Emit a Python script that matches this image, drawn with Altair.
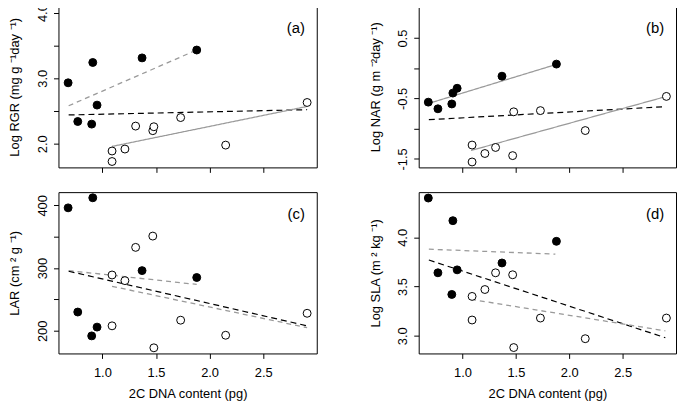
import altair as alt
import pandas as pd

FONT = "Liberation Sans"

# ---- data ----
filled_x = [0.68, 0.77, 0.91, 0.90, 0.95, 1.37, 1.88]
open_x = [1.09, 1.09, 1.21, 1.31, 1.47, 1.48, 1.73, 2.15, 2.91]

rgr_filled = [2.93, 2.34, 3.24, 2.30, 2.59, 3.31, 3.43]
rgr_open = [1.89, 1.73, 1.92, 2.27, 2.20, 2.26, 2.40, 1.98, 2.63]

nar_filled = [-0.56, -0.67, -0.41, -0.59, -0.33, -0.13, 0.07]
nar_open = [-1.27, -1.55, -1.41, -1.31, -1.445, -0.72, -0.70, -1.03, -0.465]

lar_filled = [396, 230, 412, 192, 206, 296, 285]
lar_open = [289, 208, 280, 333, 351, 173, 217, 193, 228]

sla_filled = [4.40, 3.64, 4.17, 3.42, 3.67, 3.74, 3.96]
sla_open = [3.40, 3.16, 3.47, 3.64, 3.62, 2.88, 3.18, 2.97, 3.18]

# fitted lines: (kind, x start, x end, y start, y end)
rgr_lines = [("gray_dash", 0.685, 1.88, 2.58, 3.43),
             ("black_dash", 0.685, 2.91, 2.44, 2.52),
             ("gray_solid", 1.09, 2.91, 1.96, 2.57)]
nar_lines = [("gray_solid", 0.685, 1.87, -0.58, 0.06),
             ("black_dash", 0.685, 2.90, -0.85, -0.635),
             ("gray_solid", 1.08, 2.90, -1.36, -0.47)]
lar_lines = [("gray_dash", 0.685, 1.88, 296, 274),
             ("black_dash", 0.685, 2.91, 295, 208),
             ("gray_dash", 1.09, 2.91, 271, 205)]
sla_lines = [("gray_dash", 0.685, 1.87, 3.88, 3.83),
             ("black_dash", 0.685, 2.90, 3.77, 2.98),
             ("gray_dash", 1.08, 2.90, 3.37, 3.05)]

x_ticks = [1.0, 1.5, 2.0, 2.5]
x_domain = [0.59, 3.0]
panel_letters = ["(a)", "(b)", "(c)", "(d)"]
y_titles = ["Log RGR  (mg g \u207b\u00b9day \u207b\u00b9)",
            "Log NAR  (g m \u207b\u00b2day \u207b\u00b9)",
            "LAR  (cm \u00b2 g \u207b\u00b9)",
            "Log SLA  (m \u00b2 kg \u207b\u00b9)"]
x_title = "2C DNA content  (pg)"

W, H = 261, 163


def panel(letter, ytitle, yf, yo, lines, ydom, yticks, lexpr, bottom, w):
    pts = pd.DataFrame({
        "x": filled_x + open_x,
        "y": yf + yo,
        "group": ["filled"] * len(filled_x) + ["open"] * len(open_x),
    })
    rows = []
    for i, (kind, x0, x1, y0, y1) in enumerate(lines):
        rows.append({"id": i, "kind": kind, "x": x0, "y": y0})
        rows.append({"id": i, "kind": kind, "x": x1, "y": y1})
    ldf = pd.DataFrame(rows)

    if bottom:
        xaxis = alt.Axis(values=x_ticks, format=".1f", title=x_title, grid=False,
                         domain=False, tickSize=5, tickColor="black",
                         labelPadding=8, titlePadding=9)
    else:
        xaxis = alt.Axis(values=x_ticks, labels=False, title=None, grid=False,
                         domain=False, tickSize=5, tickColor="black")
    yaxis = alt.Axis(values=yticks, labelExpr=lexpr, title=ytitle, grid=False,
                     domain=False, tickSize=5, tickColor="black",
                     labelAngle=270, labelAlign="center", labelBaseline="bottom",
                     labelPadding=4, titlePadding=7, minExtent=30, maxExtent=30)
    xenc = alt.X("x:Q", scale=alt.Scale(domain=x_domain, nice=False, zero=False), axis=xaxis)
    yenc = alt.Y("y:Q", scale=alt.Scale(domain=ydom, nice=False, zero=False), axis=yaxis)

    kinds = ["gray_dash", "gray_solid", "black_dash"]
    line_layer = alt.Chart(ldf).mark_line().encode(
        x=xenc, y=yenc, detail="id:N",
        color=alt.Color("kind:N", legend=None,
                        scale=alt.Scale(domain=kinds, range=["#9a9a9a", "#9a9a9a", "#000000"])),
        strokeDash=alt.StrokeDash("kind:N", legend=None,
                                  scale=alt.Scale(domain=kinds, range=[[5, 4], [1, 0], [6, 4]])),
        strokeWidth=alt.StrokeWidth("kind:N", legend=None,
                                    scale=alt.Scale(domain=kinds, range=[1.3, 1.2, 1.6])),
    )
    pt_layer = alt.Chart(pts).mark_point(shape="circle", filled=True, size=64,
                                         stroke="black", strokeWidth=1, opacity=1).encode(
        x=xenc, y=yenc,
        fill=alt.Fill("group:N", legend=None,
                      scale=alt.Scale(domain=["filled", "open"], range=["black", "white"])),
    )
    txt = alt.Chart(pd.DataFrame({"label": [letter]})).mark_text(
        align="right", baseline="middle", fontSize=15, font=FONT, color="black"
    ).encode(x=alt.value(w - 12), y=alt.value(22), text="label:N")
    return alt.layer(line_layer, pt_layer, txt).properties(width=w, height=H)


pa = panel(panel_letters[0], y_titles[0], rgr_filled, rgr_open, rgr_lines,
           [1.64, 4.10], [2.0, 2.5, 3.0, 3.5, 4.0],
           "datum.value % 1 == 0 ? format(datum.value, '.1f') : ''", False, 261)
pb = panel(panel_letters[1], y_titles[1], nar_filled, nar_open, nar_lines,
           [-1.64, 1.03], [-1.5, -1.0, -0.5, 0.0, 0.5],
           "abs(datum.value % 1) == 0.5 ? '' + datum.value : ''", False, 260)
pc = panel(panel_letters[2], y_titles[2], lar_filled, lar_open, lar_lines,
           [164, 421], [200, 250, 300, 350, 400],
           "datum.value % 100 == 0 ? '' + datum.value : ''", True, 261)
pd_ = panel(panel_letters[3], y_titles[3], sla_filled, sla_open, sla_lines,
            [2.82, 4.46], [3.0, 3.5, 4.0],
            "format(datum.value, '.1f')", True, 260)

chart = alt.vconcat(
    alt.hconcat(pa, pb, spacing=51),
    alt.hconcat(pc, pd_, spacing=51),
    spacing=18,
).properties(
    padding={"top": -7, "left": 0, "right": 0, "bottom": 0}
).configure_view(
    stroke="black", strokeWidth=1
).configure_axis(
    labelFont=FONT, titleFont=FONT, labelFontSize=13, titleFontSize=13,
    labelColor="black", titleColor="black", titleFontWeight="normal"
)

chart.save("out.html", embed_options={"renderer": "svg", "actions": False})
